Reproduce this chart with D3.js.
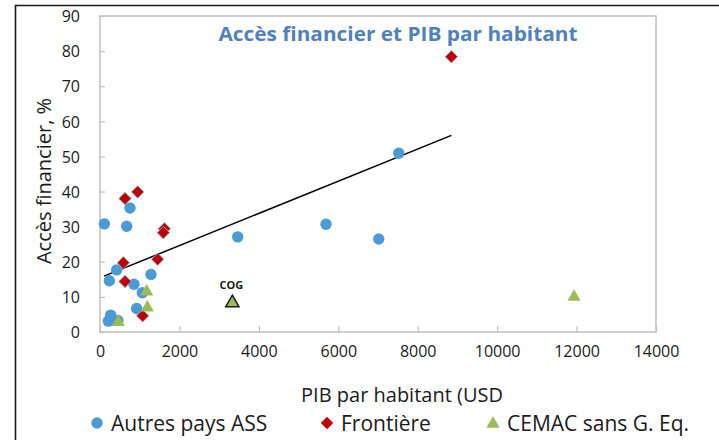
<!DOCTYPE html>
<html>
<head>
<meta charset="utf-8">
<script src="https://cdn.jsdelivr.net/npm/d3@7"></script>
<style>
  body { margin: 0; background: #fff; }
  svg { display: block; font-family: "Open Sans", "Noto Sans", sans-serif; }
</style>
</head>
<body>
<div id="chart"></div>
<script>
// Autres pays ASS: [PIB par habitant, accès financier]
const autresPays = [
    [109, 30.8], [672, 30.1], [755, 35.3], [420, 17.7], [1284, 16.4],
    [235, 14.6], [856, 13.6], [1066, 11.2], [923, 6.7], [269, 4.8],
    [210, 3.1], [450, 3.3], [3467, 27.1], [5691, 30.7], [7018, 26.5], [7521, 50.9]
];
const frontiere = [
    [630, 38.0], [948, 39.9], [1620, 29.4], [1595, 28.3], [588, 19.7],
    [1452, 20.7], [630, 14.4], [1074, 4.6], [8848, 78.4]
];
const cemac = [
    [1175, 11.8], [1192, 7.2], [462, 3.1], [11937, 10.3]
];
const cog = [[3332, 8.6]];
const cogLabel = "COG";
const trendX = [100, 8848];
const trendY = [15.9, 56.0];
const xTicks = [0, 2000, 4000, 6000, 8000, 10000, 12000, 14000];
const yTicks = [0, 10, 20, 30, 40, 50, 60, 70, 80, 90];
const legendLabels = ["Autres pays ASS", "Frontière", "CEMAC sans G. Eq."];

const blue = "#4a9ad6";
const red = "#c00000";
const green = "#9bbb59";

const W = 719, H = 440;
const margins = { left: 100, right: 63, top: 16, bottom: 108 };
const width = W - margins.left - margins.right;
const height = H - margins.top - margins.bottom;

const svg = d3.select("#chart").append("svg")
    .attr("width", W).attr("height", H);
svg.append("rect").attr("width", W).attr("height", H).attr("fill", "#fff");

// outer frame (only left and top edges are visible in the crop)
svg.append("path")
    .attr("d", `M15.5,${H} L15.5,5.5 L${W},5.5`)
    .attr("fill", "none").attr("stroke", "#1a1a1a").attr("stroke-width", 1.6);

const g = svg.append("g").attr("transform", `translate(${margins.left},${margins.top})`);

const x = d3.scaleLinear().domain([0, 14000]).range([0, width]);
const y = d3.scaleLinear().domain([0, 90]).range([height, 0]);

// plot area border
g.append("rect").attr("width", width).attr("height", height)
    .attr("fill", "none").attr("stroke", "#bfbfbf").attr("stroke-width", 1.5);

// Axes: ticks pointing inside the plot
const xAxis = d3.axisBottom(x).tickValues(xTicks).tickSize(-6).tickPadding(14).tickFormat(d3.format("d"));
const yAxis = d3.axisLeft(y).tickValues(yTicks).tickSize(-5).tickPadding(20);

const xAxisG = g.append("g").attr("transform", `translate(0,${height})`).call(xAxis);
const yAxisG = g.append("g").call(yAxis);
[xAxisG, yAxisG].forEach(a => {
    a.select(".domain").remove();
    a.selectAll(".tick line").attr("stroke", "#bfbfbf").attr("stroke-width", 1.2);
    a.selectAll(".tick text").attr("fill", "#1a1a1a")
        .style("font-family", "\"Open Sans\", sans-serif").attr("font-size", "16px");
});
yAxisG.selectAll(".tick text").attr("dy", "0.36em");

// Trend line
g.append("line")
    .attr("x1", x(trendX[0])).attr("y1", y(trendY[0]))
    .attr("x2", x(trendX[1])).attr("y2", y(trendY[1]))
    .attr("stroke", "#000").attr("stroke-width", 1.5);

// Markers
const diamond = d3.symbol().type(d3.symbolSquare).size(78);
const triangle = d3.symbol().type(d3.symbolTriangle).size(76);

g.selectAll(".autres").data(autresPays).enter().append("circle")
    .attr("class", "autres")
    .attr("cx", d => x(d[0])).attr("cy", d => y(d[1]))
    .attr("r", 5.7).attr("fill", blue);

g.selectAll(".frontiere").data(frontiere).enter().append("path")
    .attr("class", "frontiere")
    .attr("d", diamond)
    .attr("transform", d => `translate(${x(d[0])},${y(d[1])}) rotate(45)`)
    .attr("fill", red).attr("stroke", "#8fbce6").attr("stroke-width", 0.8);

g.selectAll(".cemac").data(cemac).enter().append("path")
    .attr("class", "cemac")
    .attr("d", triangle)
    .attr("transform", d => `translate(${x(d[0])},${y(d[1]) + 1})`)
    .attr("fill", green);

g.selectAll(".cog").data(cog).enter().append("path")
    .attr("class", "cog")
    .attr("d", triangle)
    .attr("transform", d => `translate(${x(d[0])},${y(d[1]) + 1})`)
    .attr("fill", green).attr("stroke", "#1a1a1a").attr("stroke-width", 1.5);

g.selectAll(".cogLabel").data(cog).enter().append("text")
    .attr("class", "cogLabel")
    .attr("x", d => x(d[0]) - 1).attr("y", d => y(d[1]) - 13)
    .attr("text-anchor", "middle")
    .attr("font-size", "11px").attr("font-weight", "bold").attr("fill", "#1a1a1a")
    .text(cogLabel);

// Title
svg.append("text")
    .attr("x", 398).attr("y", 41)
    .attr("text-anchor", "middle")
    .attr("font-size", "20px").attr("font-weight", "bold").attr("fill", "#4f81bd")
    .attr("textLength", 359).attr("lengthAdjust", "spacingAndGlyphs")
    .text("Accès financier et PIB par habitant");

// Axis titles
svg.append("text")
    .attr("x", 402).attr("y", 402)
    .attr("text-anchor", "middle")
    .attr("font-size", "20px").attr("fill", "#1a1a1a")
    .text("PIB par habitant (USD");

svg.append("text")
    .attr("transform", "translate(51,181) rotate(-90)")
    .attr("text-anchor", "middle")
    .attr("font-size", "20px").attr("fill", "#1a1a1a")
    .text("Accès financier, %");

// Legend
const legendX = [97, 327, 493];
const legend = svg.append("g");
legendLabels.forEach((label, i) => {
    const item = legend.append("g").attr("transform", `translate(${legendX[i]},423)`);
    if (i === 0) item.append("circle").attr("r", 5.7).attr("fill", blue);
    if (i === 1) item.append("path").attr("d", diamond).attr("transform", "rotate(45)").attr("fill", red);
    if (i === 2) item.append("path").attr("d", triangle).attr("transform", "translate(0,1)").attr("fill", green);
    item.append("text")
        .attr("x", 14).attr("y", 8)
        .attr("font-size", "21px").attr("fill", "#1a1a1a")
        .text(label);
});
</script>
</body>
</html>
